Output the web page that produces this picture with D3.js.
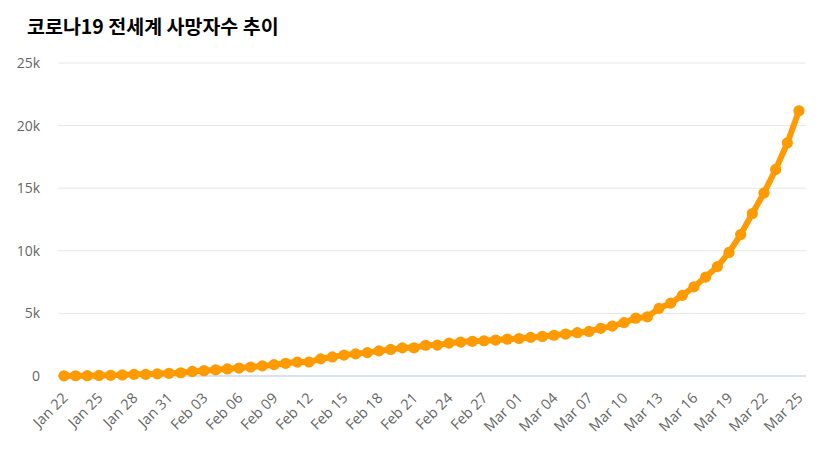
<!DOCTYPE html>
<html>
<head>
<meta charset="utf-8">
<title>코로나19 전세계 사망자수 추이</title>
<script src="https://d3js.org/d3.v7.min.js"></script>
<style>
  body { margin: 0; background: #fff; }
  svg text { font-family: "Open Sans", "Noto Sans", sans-serif; }
</style>
</head>
<body>
<div id="chart"></div>
<script>
// dates (Jan 22 .. Mar 25, 2020)
var startDate = new Date(2020, 0, 22);
var deaths = [17, 18, 26, 42, 56, 82, 131, 133, 171, 213,
  259, 362, 426, 492, 564, 634, 719, 806, 906, 1013,
  1113, 1118, 1371, 1523, 1666, 1770, 1868, 2007, 2122, 2247,
  2251, 2458, 2469, 2629, 2708, 2770, 2814, 2872, 2941, 2996,
  3085, 3160, 3254, 3348, 3460, 3558, 3802, 3988, 4262, 4615,
  4720, 5404, 5819, 6440, 7126, 7905, 8733, 9867, 11299, 12973,
  14623, 16497, 18615, 21181];
var yTicks = [0, 5000, 10000, 15000, 20000, 25000];
var yTickLabels = ["0", "5k", "10k", "15k", "20k", "25k"];

var data = deaths.map(function (d, i) {
  return { date: d3.timeDay.offset(startDate, i), value: d };
});

var width = 830, height = 467;
var margin = { top: 63, right: 24, bottom: 91, left: 58 };

var svg = d3.select("#chart").append("svg")
  .attr("width", width)
  .attr("height", height);

// title
svg.append("text")
  .attr("x", 27)
  .attr("y", 34)
  .style("font-family", "'Noto Sans CJK KR', sans-serif")
  .style("font-size", "19.5px")
  .style("font-weight", "bold")
  .attr("fill", "#000")
  .text("코로나19 전세계 사망자수 추이");

var x = d3.scaleTime()
  .domain([data[0].date, data[data.length - 1].date])
  .range([margin.left + 6, width - margin.right - 7]);

var y = d3.scaleLinear()
  .domain([0, 25000])
  .range([height - margin.bottom, margin.top]);

// gridlines
svg.append("g")
  .selectAll("line")
  .data(yTicks.slice(1))
  .enter().append("line")
  .attr("x1", margin.left)
  .attr("x2", width - margin.right)
  .attr("y1", function (d) { return y(d); })
  .attr("y2", function (d) { return y(d); })
  .attr("stroke", "#e6e6e6")
  .attr("stroke-width", 1);

// y labels
svg.append("g")
  .selectAll("text")
  .data(yTicks)
  .enter().append("text")
  .attr("x", 40)
  .attr("y", function (d) { return y(d) + 5; })
  .attr("text-anchor", "end")
  .attr("fill", "#666")
  .style("font-size", "14px")
  .text(function (d, i) { return yTickLabels[i]; });

// x axis
var xTickDates = data.filter(function (d, i) { return i % 3 === 0; }).map(function (d) { return d.date; });
var xAxis = svg.append("g")
  .attr("transform", "translate(0," + y(0) + ")")
  .call(d3.axisBottom(x)
    .tickValues(xTickDates)
    .tickSize(0)
    .tickFormat(d3.timeFormat("%b %d")));
xAxis.select(".domain").remove();
xAxis.append("line")
  .attr("x1", margin.left)
  .attr("x2", width - margin.right)
  .attr("stroke", "#ccd6eb")
  .attr("stroke-width", 1.5);
xAxis.selectAll("text")
  .attr("fill", "#666")
  .style("font-size", "14.5px")
  .style("font-family", "'Open Sans', sans-serif")
  .attr("text-anchor", "end")
  .attr("x", 0)
  .attr("y", 0)
  .attr("dy", 0)
  .attr("transform", "translate(4,23) rotate(-45)");

// line
var color = "#ff9a00";
svg.append("path")
  .datum(data)
  .attr("fill", "none")
  .attr("stroke", color)
  .attr("stroke-width", 6)
  .attr("stroke-linejoin", "round")
  .attr("d", d3.line()
    .x(function (d) { return x(d.date); })
    .y(function (d) { return y(d.value); }));

// markers
svg.append("g")
  .selectAll("circle")
  .data(data)
  .enter().append("circle")
  .attr("cx", function (d) { return x(d.date); })
  .attr("cy", function (d) { return y(d.value); })
  .attr("r", 5.6)
  .attr("fill", color);
</script>
</body>
</html>
